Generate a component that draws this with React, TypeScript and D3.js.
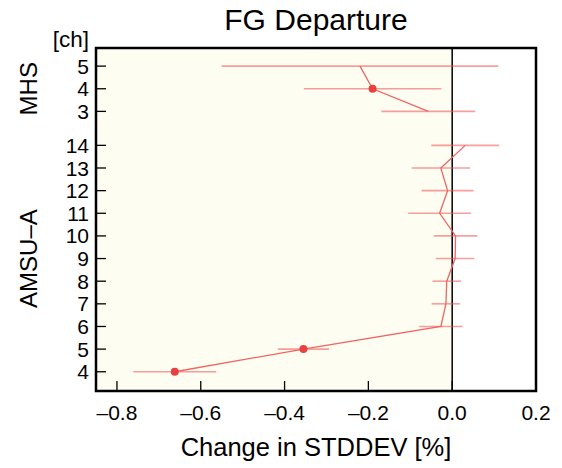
import React, { useEffect, useRef } from 'react';
import * as d3 from 'd3';

// MHS channels (top block)
const mhsChannels = [5, 4, 3];
const mhsMean = [-0.22, -0.19, -0.057];
const mhsErr = [0.33, 0.164, 0.112];
const mhsSig = [false, true, false];

// AMSU-A channels (bottom block)
const amsuChannels = [14, 13, 12, 11, 10, 9, 8, 7, 6, 5, 4];
const amsuMean = [0.031, -0.027, -0.011, -0.03, 0.008, 0.007, -0.013, -0.015, -0.027, -0.355, -0.662];
const amsuErr = [0.081, 0.07, 0.062, 0.075, 0.052, 0.046, 0.034, 0.034, 0.052, 0.061, 0.099];
const amsuSig = [false, false, false, false, false, false, false, false, false, true, true];

const xTicks = [-0.8, -0.6, -0.4, -0.2, 0.0, 0.2];

const W = 562;
const H = 468;

const App = () => {
  const svgRef = useRef<SVGSVGElement>(null);

  useEffect(() => {
    document.body.style.margin = '0';
    const svg = d3.select(svgRef.current);
    svg.selectAll('*').remove();

    const margin = { top: 48, right: 26, bottom: 77, left: 96 };
    const width = W - margin.left - margin.right;
    const height = H - margin.top - margin.bottom;
    const font = "'Liberation Sans', Arial, Helvetica, sans-serif";

    const x = d3.scaleLinear().domain([-0.85, 0.2]).range([0, width]);
    const y = d3.scaleLinear().domain([-0.85, 14.3]).range([height, 0]);

    // row positions: AMSU ch4 -> 0, MHS placed above with a half-row gap
    const amsuRow = (c: number) => c - 4;
    const mhsRow = (c: number) => c + 8.5;

    const mhs = mhsChannels.map((c, i) => ({ ch: c, row: mhsRow(c), m: mhsMean[i], e: mhsErr[i], sig: mhsSig[i] }));
    const amsu = amsuChannels.map((c, i) => ({ ch: c, row: amsuRow(c), m: amsuMean[i], e: amsuErr[i], sig: amsuSig[i] }));
    const all = [...mhs, ...amsu];

    const g = svg.append('g').attr('transform', `translate(${margin.left},${margin.top})`);

    // cream background up to zero
    g.append('rect')
      .attr('x', 0).attr('y', 0)
      .attr('width', x(0)).attr('height', height)
      .attr('fill', '#fdfdf1');

    // zero line
    g.append('line')
      .attr('x1', x(0)).attr('x2', x(0))
      .attr('y1', 0).attr('y2', height)
      .attr('stroke', '#000').attr('stroke-width', 1.5);

    // error bars
    g.selectAll('.err')
      .data(all)
      .enter()
      .append('line')
      .attr('class', 'err')
      .attr('x1', d => x(d.m - d.e))
      .attr('x2', d => x(d.m + d.e))
      .attr('y1', d => y(d.row))
      .attr('y2', d => y(d.row))
      .attr('stroke', 'rgba(240, 80, 80, 0.55)')
      .attr('stroke-width', 1.6);

    const line = d3.line<any>().x(d => x(d.m)).y(d => y(d.row));

    [mhs, amsu].forEach(block => {
      g.append('path')
        .datum(block)
        .attr('d', line)
        .attr('fill', 'none')
        .attr('stroke', '#f06464')
        .attr('stroke-width', 1.3);
    });

    g.selectAll('.dot')
      .data(all.filter(d => d.sig))
      .enter()
      .append('circle')
      .attr('cx', d => x(d.m))
      .attr('cy', d => y(d.row))
      .attr('r', 4)
      .attr('fill', '#e8413f');

    // y ticks (inward)
    g.selectAll('.ytick')
      .data(all)
      .enter()
      .append('line')
      .attr('x1', 0).attr('x2', 10)
      .attr('y1', d => y(d.row)).attr('y2', d => y(d.row))
      .attr('stroke', '#000').attr('stroke-width', 1.3);

    g.selectAll('.ylab')
      .data(all)
      .enter()
      .append('text')
      .attr('x', -7)
      .attr('y', d => y(d.row))
      .attr('dy', '0.36em')
      .attr('text-anchor', 'end')
      .style('font-family', font)
      .style('font-size', '21px')
      .text(d => d.ch);

    // x ticks (inward from bottom)
    g.selectAll('.xtick')
      .data(xTicks)
      .enter()
      .append('line')
      .attr('x1', d => x(d)).attr('x2', d => x(d))
      .attr('y1', height).attr('y2', height - 10)
      .attr('stroke', '#000').attr('stroke-width', 1.3);

    g.selectAll('.xlab')
      .data(xTicks)
      .enter()
      .append('text')
      .attr('x', d => x(d))
      .attr('y', height + 29)
      .attr('text-anchor', 'middle')
      .style('font-family', font)
      .style('font-size', '21px')
      .text(d => (d < 0 ? '–' : '') + Math.abs(d).toFixed(1));

    // frame
    g.append('rect')
      .attr('x', 0).attr('y', 0)
      .attr('width', width).attr('height', height)
      .attr('fill', 'none')
      .attr('stroke', '#000')
      .attr('stroke-width', 2.5);

    // labels
    svg.append('text')
      .attr('x', margin.left + width / 2)
      .attr('y', 30)
      .attr('text-anchor', 'middle')
      .style('font-family', font)
      .style('font-size', '30px')
      .text('FG Departure');

    svg.append('text')
      .attr('x', margin.left + width / 2)
      .attr('y', 456)
      .attr('text-anchor', 'middle')
      .style('font-family', font)
      .style('font-size', '25.5px')
      .text('Change in STDDEV [%]');

    svg.append('text')
      .attr('x', 89)
      .attr('y', 47)
      .attr('text-anchor', 'end')
      .style('font-family', font)
      .style('font-size', '22.5px')
      .text('[ch]');

    const blockLabel = (txt: string, rows: number[]) => {
      const cy = margin.top + (y(d3.min(rows)!) + y(d3.max(rows)!)) / 2;
      svg.append('text')
        .attr('transform', `translate(37,${cy}) rotate(-90)`)
        .attr('text-anchor', 'middle')
        .style('font-family', font)
        .style('font-size', '24px')
        .text(txt);
    };
    blockLabel('MHS', mhs.map(d => d.row));
    blockLabel('AMSU–A', amsu.map(d => d.row));
  }, []);

  return <svg ref={svgRef} width={W} height={H} style={{ display: 'block' }} />;
};

export default App;
